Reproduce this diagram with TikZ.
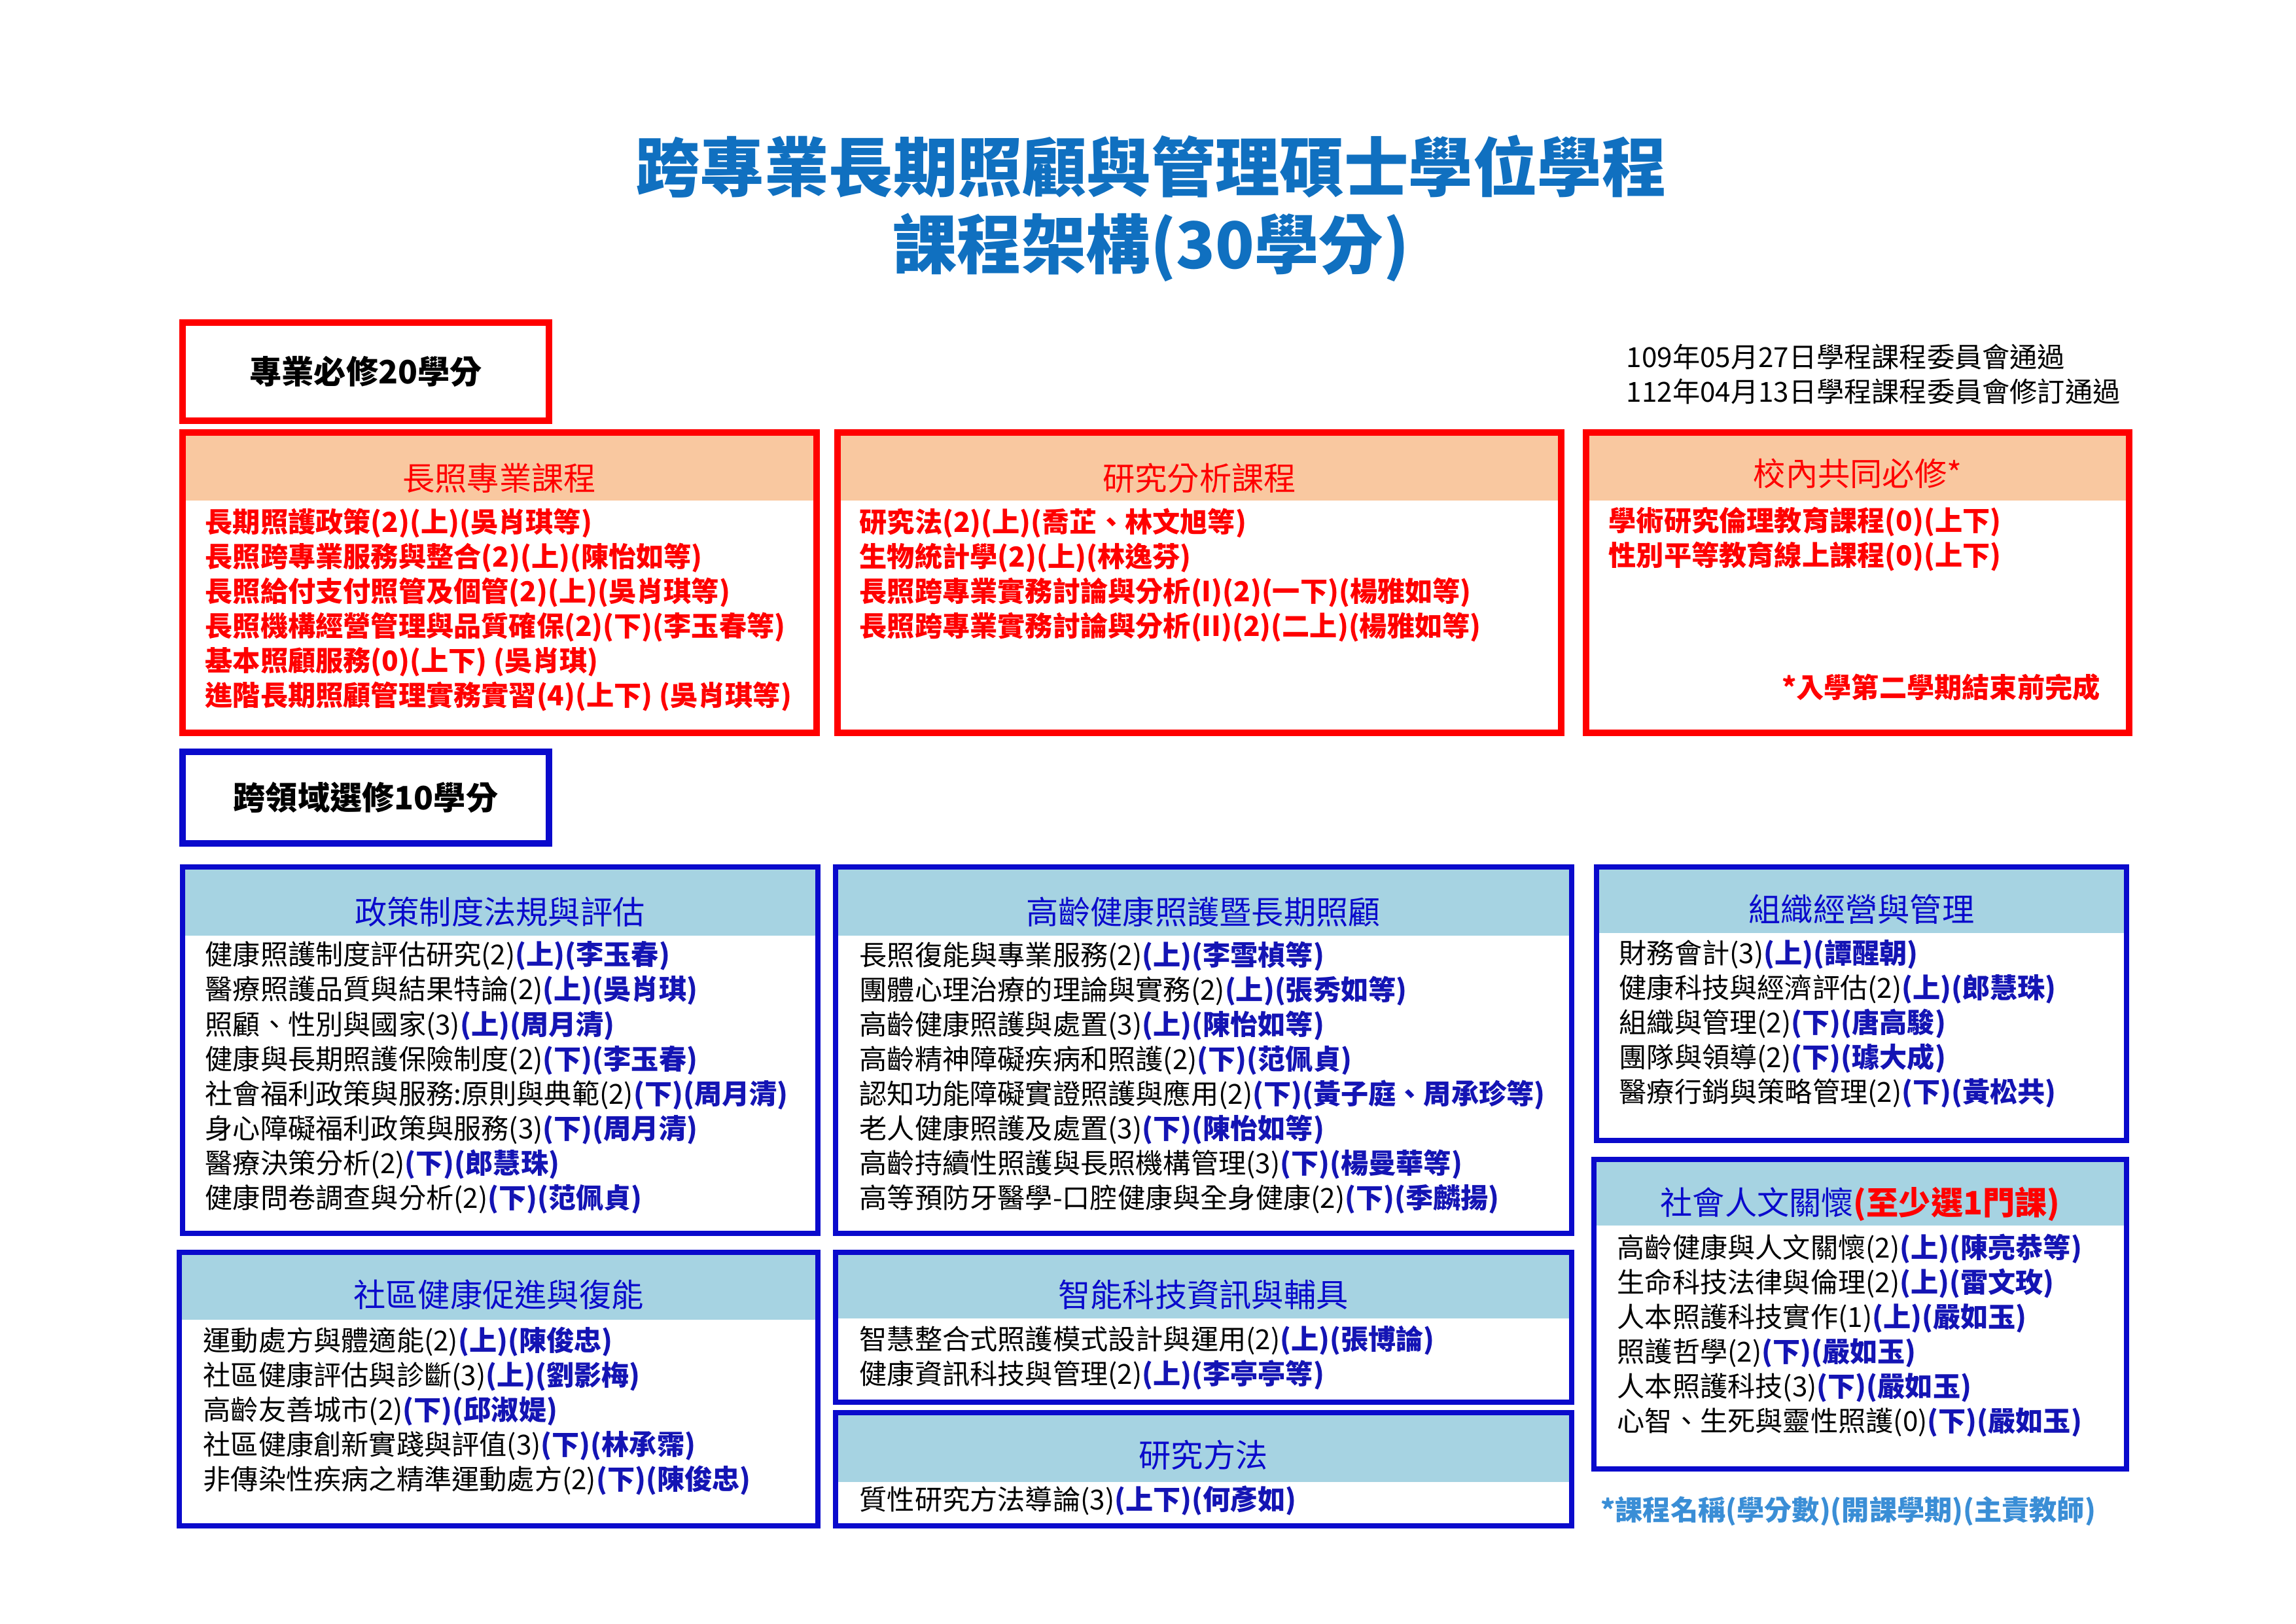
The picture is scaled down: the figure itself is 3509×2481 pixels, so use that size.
\documentclass[tikz,border=0pt]{standalone}
\usepackage{fontspec}
\usepackage{xcolor}
\usetikzlibrary{positioning, fit}
\setmainfont{Noto Sans CJK TC}
\definecolor{CRED}{HTML}{FF0000}
\definecolor{CPEACH}{HTML}{F9C8A0}
\definecolor{CBLUE}{HTML}{0A0ACC}
\definecolor{CTXT}{HTML}{1414B4}
\definecolor{CSKY}{HTML}{A6D3E2}
\definecolor{CTITLE}{HTML}{1070C0}
\definecolor{CNOTE}{HTML}{3A8ED6}
\newcommand{\tb}[1]{\textcolor{CTXT}{\bfseries #1}}

\begin{document}
\begin{tikzpicture}[x=0.01cm, y=-0.01cm,
    rpanel/.style={draw=CRED, line width=2.6pt, inner sep=0pt},
    bpanel/.style={draw=CBLUE, line width=2.4pt, inner sep=0pt},
    rhead/.style={fill=CPEACH, inner sep=0pt},
    bhead/.style={fill=CSKY, inner sep=0pt},
    rtitle/.style={text=CRED, font=\fontsize{14}{16}\selectfont},
    btitle/.style={text=CBLUE, font=\fontsize{14}{16}\selectfont},
    items/.style={anchor=north west, inner sep=0pt, align=left,
                  font=\fontsize{12}{15.1}\selectfont},
    ritems/.style={items, text=CRED, font=\fontsize{12}{15.1}\selectfont\bfseries},
    tag/.style={draw, line width=2.6pt, inner sep=0pt, font=\fontsize{14}{16}\selectfont\bfseries}
  ]
  \useasboundingbox[fill=white] (0,0) rectangle (3509,2481);

  % title
  \node[text=CTITLE, font=\fontsize{28}{34}\selectfont\bfseries] (title1) at (1759,254) {跨專業長期照顧與管理碩士學位學程};
  \node[text=CTITLE, font=\fontsize{28}{34}\selectfont\bfseries] (title2) at (1759,378) {課程架構(30學分)};

  % required part
  \node[tag, draw=CRED, fit={(279,493)(839,643)}] (reqtag) {};
  \node (reqtxt) at (reqtag.center) {\fontsize{14}{16}\selectfont\bfseries 專業必修20學分};
  \node[items, font=\fontsize{12}{15.1}\selectfont] (dates) at (2485,525) {109年05月27日學程課程委員會通過\\112年04月13日學程課程委員會修訂通過};

  \node[rhead, fit={(279,661)(1248,765)}] (careH) {};
  \node[rpanel, fit={(279,661)(1248,1120)}] (care) {};
  \node[rtitle] (careT) at (763,731) {長照專業課程};
  \node[ritems] (careL) at (313,776) {長期照護政策(2)(上)(吳肖琪等)\\長照跨專業服務與整合(2)(上)(陳怡如等)\\長照給付支付照管及個管(2)(上)(吳肖琪等)\\長照機構經營管理與品質確保(2)(下)(李玉春等)\\基本照顧服務(0)(上下) (吳肖琪)\\進階長期照顧管理實務實習(4)(上下) (吳肖琪等)};

  \node[rhead, fit={(1280,661)(2386,765)}] (resH) {};
  \node[rpanel, fit={(1280,661)(2386,1120)}] (res) {};
  \node[rtitle] (resT) at (1833,731) {研究分析課程};
  \node[ritems] (resL) at (1313,776) {研究法(2)(上)(喬芷、林文旭等)\\生物統計學(2)(上)(林逸芬)\\長照跨專業實務討論與分析(I)(2)(一下)(楊雅如等)\\長照跨專業實務討論與分析(II)(2)(二上)(楊雅如等)};

  \node[rhead, fit={(2424,661)(3254,765)}] (comH) {};
  \node[rpanel, fit={(2424,661)(3254,1120)}] (com) {};
  \node[rtitle] (comT) at (2839,724) {校內共同必修*};
  \node[ritems] (comL) at (2458,774) {學術研究倫理教育課程(0)(上下)\\性別平等教育線上課程(0)(上下)};
  \node[text=CRED, anchor=east, font=\fontsize{12}{15}\selectfont\bfseries] (comN) at (3222,1050) {*入學第二學期結束前完成};

  % elective part
  \node[tag, draw=CBLUE, fit={(279,1149)(839,1289)}] (eltag) {};
  \node (eltxt) at (eltag.center) {\fontsize{14}{16}\selectfont\bfseries 跨領域選修10學分};

  \node[bhead, fit={(279,1325)(1250,1430)}] (polH) {};
  \node[bpanel, fit={(279,1325)(1250,1885)}] (pol) {};
  \node[btitle] (polT) at (764,1394) {政策制度法規與評估};
  \node[items] (polL) at (313,1438) {健康照護制度評估研究(2)\tb{(上)(李玉春)}\\醫療照護品質與結果特論(2)\tb{(上)(吳肖琪)}\\照顧、性別與國家(3)\tb{(上)(周月清)}\\健康與長期照護保險制度(2)\tb{(下)(李玉春)}\\社會福利政策與服務:原則與典範(2)\tb{(下)(周月清)}\\身心障礙福利政策與服務(3)\tb{(下)(周月清)}\\醫療決策分析(2)\tb{(下)(郎慧珠)}\\健康問卷調查與分析(2)\tb{(下)(范佩貞)}};

  \node[bhead, fit={(1277,1325)(2402,1430)}] (ageH) {};
  \node[bpanel, fit={(1277,1325)(2402,1885)}] (age) {};
  \node[btitle] (ageT) at (1839,1394) {高齡健康照護暨長期照顧};
  \node[items] (ageL) at (1313,1438) {長照復能與專業服務(2)\tb{(上)(李雪楨等)}\\團體心理治療的理論與實務(2)\tb{(上)(張秀如等)}\\高齡健康照護與處置(3)\tb{(上)(陳怡如等)}\\高齡精神障礙疾病和照護(2)\tb{(下)(范佩貞)}\\認知功能障礙實證照護與應用(2)\tb{(下)(黃子庭、周承珍等)}\\老人健康照護及處置(3)\tb{(下)(陳怡如等)}\\高齡持續性照護與長照機構管理(3)\tb{(下)(楊曼華等)}\\高等預防牙醫學-口腔健康與全身健康(2)\tb{(下)(季麟揚)}};

  \node[bhead, fit={(2440,1325)(3250,1426)}] (orgH) {};
  \node[bpanel, fit={(2440,1325)(3250,1743)}] (org) {};
  \node[btitle] (orgT) at (2845,1390) {組織經營與管理};
  \node[items] (orgL) at (2474,1435) {財務會計(3)\tb{(上)(譚醒朝)}\\健康科技與經濟評估(2)\tb{(上)(郎慧珠)}\\組織與管理(2)\tb{(下)(唐高駿)}\\團隊與領導(2)\tb{(下)(璩大成)}\\醫療行銷與策略管理(2)\tb{(下)(黃松共)}};

  \node[bhead, fit={(2436,1772)(3250,1873)}] (humH) {};
  \node[bpanel, fit={(2436,1772)(3250,2245)}] (hum) {};
  \node[btitle] (humT) at (2843,1840) {社會人文關懷\textcolor{CRED}{\bfseries(至少選1門課)}};
  \node[items] (humL) at (2471,1885) {高齡健康與人文關懷(2)\tb{(上)(陳亮恭等)}\\生命科技法律與倫理(2)\tb{(上)(雷文玫)}\\人本照護科技實作(1)\tb{(上)(嚴如玉)}\\照護哲學(2)\tb{(下)(嚴如玉)}\\人本照護科技(3)\tb{(下)(嚴如玉)}\\心智、生死與靈性照護(0)\tb{(下)(嚴如玉)}};

  \node[bhead, fit={(274,1914)(1250,2017)}] (comuH) {};
  \node[bpanel, fit={(274,1914)(1250,2332)}] (comu) {};
  \node[btitle] (comuT) at (762,1979) {社區健康促進與復能};
  \node[items] (comuL) at (310,2027) {運動處方與體適能(2)\tb{(上)(陳俊忠)}\\社區健康評估與診斷(3)\tb{(上)(劉影梅)}\\高齡友善城市(2)\tb{(下)(邱淑媞)}\\社區健康創新實踐與評值(3)\tb{(下)(林承霈)}\\非傳染性疾病之精準運動處方(2)\tb{(下)(陳俊忠)}};

  \node[bhead, fit={(1277,1914)(2402,2015)}] (techH) {};
  \node[bpanel, fit={(1277,1914)(2402,2143)}] (tech) {};
  \node[btitle] (techT) at (1839,1979) {智能科技資訊與輔具};
  \node[items] (techL) at (1313,2025) {智慧整合式照護模式設計與運用(2)\tb{(上)(張博論)}\\健康資訊科技與管理(2)\tb{(上)(李亭亭等)}};

  \node[bhead, fit={(1277,2159)(2402,2265)}] (methH) {};
  \node[bpanel, fit={(1277,2159)(2402,2332)}] (meth) {};
  \node[btitle] (methT) at (1839,2224) {研究方法};
  \node[items] (methL) at (1313,2270) {質性研究方法導論(3)\tb{(上下)(何彥如)}};

  \node[text=CNOTE, anchor=west, font=\fontsize{12}{15}\selectfont\bfseries] (note) at (2434,2310) {*課程名稱(學分數)(開課學期)(主責教師)};
\end{tikzpicture}
\end{document}
